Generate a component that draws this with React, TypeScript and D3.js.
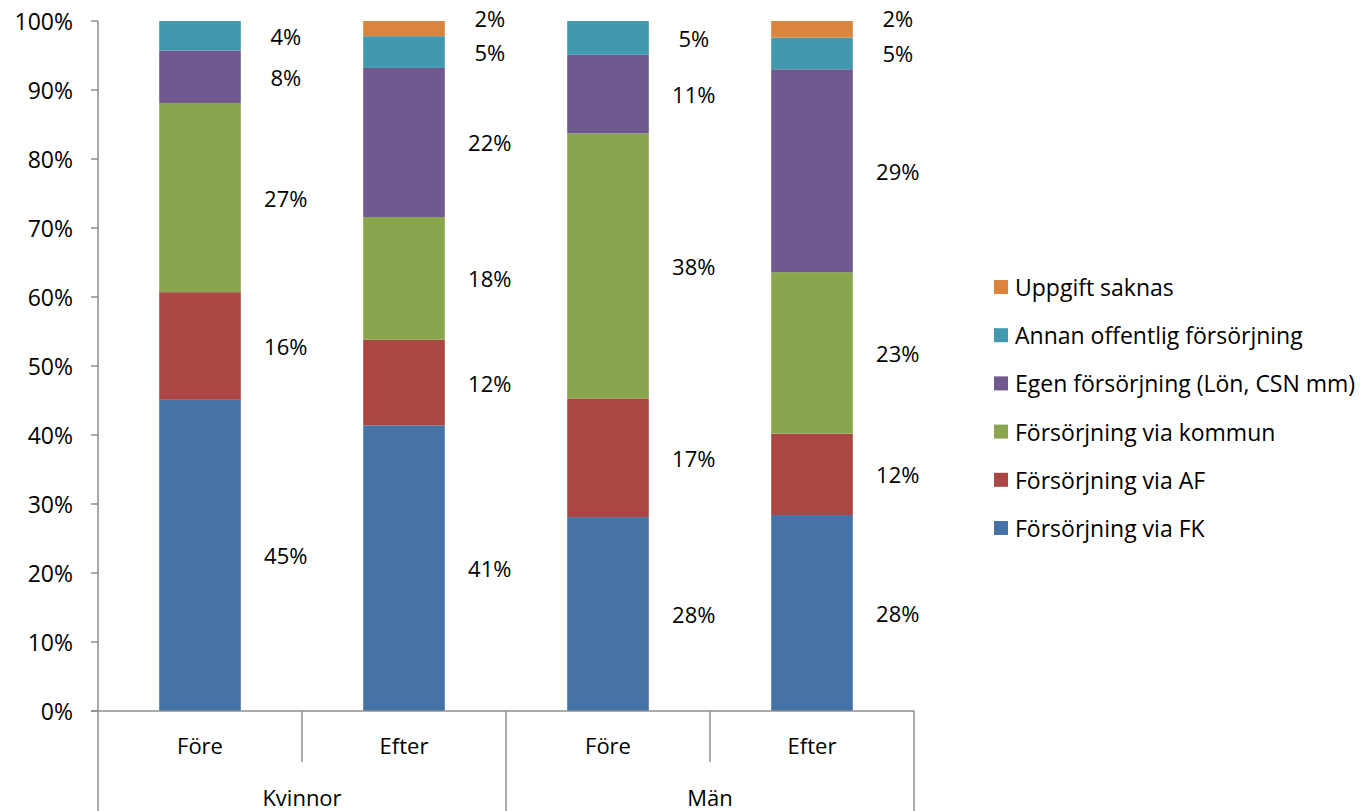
import React from 'react';
import * as d3 from 'd3';

const groups = ['Kvinnor', 'Män'];
const periods = ['Före', 'Efter'];
const seriesNames = [
  'Försörjning via FK',
  'Försörjning via AF',
  'Försörjning via kommun',
  'Egen försörjning (Lön, CSN mm)',
  'Annan offentlig försörjning',
  'Uppgift saknas',
];
const seriesColors = ['#4572A7', '#AA4643', '#89A54E', '#71588F', '#4198AF', '#DB843D'];

// values per bar: Kvinnor Före, Kvinnor Efter, Män Före, Män Efter
const fk = [45.1, 41.4, 28.1, 28.4];
const af = [15.6, 12.4, 17.2, 11.8];
const kommun = [27.4, 17.8, 38.4, 23.4];
const egen = [7.6, 21.6, 11.4, 29.4];
const annan = [4.3, 4.6, 4.9, 4.6];
const saknas = [0, 2.2, 0, 2.4];

const yTicks = [0, 10, 20, 30, 40, 50, 60, 70, 80, 90, 100];

const font = '"Open Sans", sans-serif';

export default function App() {
  const width = 1363;
  const height = 811;
  const left = 98;
  const right = 914;
  const top = 21;
  const bottom = 711;

  const seriesValues = [fk, af, kommun, egen, annan, saknas];
  const barKeys = groups.flatMap(g => periods.map(p => `${g}|${p}`));
  const rows = barKeys.map((k, i) => {
    const row: any = { key: k };
    seriesNames.forEach((s, j) => (row[s] = seriesValues[j][i]));
    return row;
  });
  const stacked = d3.stack<any>().keys(seriesNames)(rows);

  const x = d3.scaleBand().domain(barKeys).range([left, right]).paddingInner(0.6).paddingOuter(0.3);
  const xCat = d3.scaleBand().domain(barKeys).range([left, right]);
  const xGroup = d3.scaleBand().domain(groups).range([left, right]);
  const y = d3.scaleLinear().domain([0, 100]).range([bottom, top]);

  const axisColor = '#8c8c8c';
  const legendY = d3.scalePoint().domain([...seriesNames].reverse()).range([287, 528]);

  // tiny segments get their label at the top edge so they don't collide
  const labelY = (d: [number, number]) =>
    d[1] - d[0] < 3 ? y(d[1]) - 3 : y((d[0] + d[1]) / 2);

  return (
    <svg width={width} height={height} style={{ position: 'absolute', left: 0, top: 0, background: '#fff' }}>
      {/* bars */}
      {stacked.map((layer, si) => (
        <g key={layer.key} fill={seriesColors[si]}>
          {layer.map((d, bi) =>
            d[1] - d[0] > 0 ? (
              <rect
                key={bi}
                x={x(barKeys[bi])}
                y={y(d[1])}
                width={x.bandwidth()}
                height={y(d[0]) - y(d[1])}
              />
            ) : null
          )}
        </g>
      ))}

      {/* data labels */}
      {stacked.map((layer, si) => (
        <g key={`l${layer.key}`} fontFamily={font} fontSize={22} fill="#000" textAnchor="middle">
          {layer.map((d, bi) =>
            d[1] - d[0] > 0 ? (
              <text
                key={bi}
                x={(x(barKeys[bi]) as number) + x.bandwidth() + 45}
                y={labelY(d as any)}
                dominantBaseline="central"
              >
                {`${Math.round(d[1] - d[0])}%`}
              </text>
            ) : null
          )}
        </g>
      ))}

      {/* y axis */}
      <line x1={left} x2={left} y1={top} y2={height} stroke={axisColor} strokeWidth={1.5} />
      {yTicks.map(t => (
        <g key={t}>
          <line x1={left - 7} x2={left} y1={y(t)} y2={y(t)} stroke={axisColor} strokeWidth={1.5} />
          <text
            x={left - 25}
            y={y(t)}
            textAnchor="end"
            dominantBaseline="central"
            fontFamily={font}
            fontSize={23}
            fill="#000"
          >
            {`${t}%`}
          </text>
        </g>
      ))}

      {/* x axis */}
      <line x1={left - 7} x2={right} y1={bottom} y2={bottom} stroke={axisColor} strokeWidth={1.5} />
      {barKeys.map((k, i) => (
        <g key={k}>
          {i % periods.length !== 0 ? (
            <line
              x1={xCat(k)}
              x2={xCat(k)}
              y1={bottom}
              y2={bottom + 51}
              stroke={axisColor}
              strokeWidth={1.5}
            />
          ) : null}
          <text
            x={(xCat(k) as number) + xCat.bandwidth() / 2}
            y={745}
            textAnchor="middle"
            dominantBaseline="central"
            fontFamily={font}
            fontSize={22}
            fill="#000"
          >
            {k.split('|')[1]}
          </text>
        </g>
      ))}
      {groups.map(g => (
        <g key={g}>
          <line
            x1={(xGroup(g) as number) + xGroup.bandwidth()}
            x2={(xGroup(g) as number) + xGroup.bandwidth()}
            y1={bottom}
            y2={height}
            stroke={axisColor}
            strokeWidth={1.5}
          />
          <text
            x={(xGroup(g) as number) + xGroup.bandwidth() / 2}
            y={797}
            textAnchor="middle"
            dominantBaseline="central"
            fontFamily={font}
            fontSize={22}
            fill="#000"
          >
            {g}
          </text>
        </g>
      ))}

      {/* legend */}
      {seriesNames.map((s, i) => (
        <g key={s} transform={`translate(994,${legendY(s)})`}>
          <rect x={0} y={-7} width={14} height={14} fill={seriesColors[i]} />
          <text x={21} y={0} dominantBaseline="central" fontFamily={font} fontSize={23} fill="#000">
            {s}
          </text>
        </g>
      ))}
    </svg>
  );
}
